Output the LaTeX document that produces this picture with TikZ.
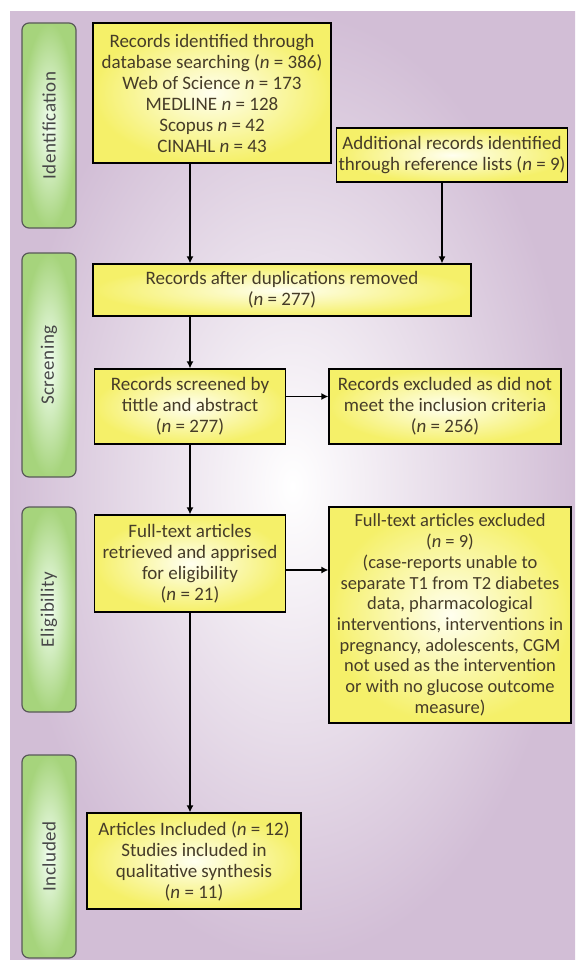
\documentclass[tikz,border=0pt]{standalone}
\usepackage{fontspec}
\setmainfont{Carlito}
\usetikzlibrary{arrows.meta}

\definecolor{bgpurple}{RGB}{210,190,214}
\definecolor{boxyellow}{RGB}{245,240,105}
\definecolor{stagegreen}{RGB}{166,212,124}
\definecolor{textdark}{RGB}{70,60,40}

\begin{document}
\begin{tikzpicture}[x=1pt,y=-1pt,
  box/.style={draw=black,line width=1.3pt,inner color=yellow!6!white,outer color=boxyellow,
    align=center,text=textdark,font=\fontsize{19}{21}\selectfont,inner sep=2pt},
  stage/.style={draw=black!65,line width=1.2pt,rounded corners=7pt,inner color=green!5!white,
    outer color=stagegreen,text=black!72,font=\fontsize{19}{20}\selectfont\addfontfeatures{LetterSpace=3},
    rotate=90,minimum height=54pt},
  arr/.style={-{Latex[length=7pt,width=7pt]},line width=1.3pt}]

% Frame
\useasboundingbox (0,0) rectangle (575,960);
\fill[white] (0,0) rectangle (575,960);
\fill[inner color=white,outer color=bgpurple] (10,12) rectangle (575,960);

% Stages
\node[stage,minimum width=205pt] (ident) at (49,125.5) {Identification};
\node[stage,minimum width=224pt] (screen) at (49,365) {Screening};
\node[stage,minimum width=205pt] (elig) at (49,609.5) {Eligibility};
\node[stage,minimum width=203pt] (incl) at (49,856.5) {Included};

% Boxes
\node[box,minimum width=238pt,minimum height=140pt] (search) at (212,93)
  {Records identified through\\database searching (\textit{n} = 386)\\Web of Science \textit{n} = 173\\MEDLINE \textit{n} = 128\\Scopus \textit{n} = 42\\CINAHL \textit{n} = 43};
\node[box,minimum width=230pt,minimum height=54pt] (extra) at (452,155)
  {Additional records identified\\through reference lists (\textit{n} = 9)};
\node[box,minimum width=378pt,minimum height=52pt] (dedup) at (282,290)
  {Records after duplications removed\\(\textit{n} = 277)};
\node[box,minimum width=191pt,minimum height=75pt] (screened) at (190,406.5)
  {Records screened by\\tittle and abstract\\(\textit{n} = 277)};
\node[box,minimum width=232pt,minimum height=75pt] (excluded) at (445,406.5)
  {Records excluded as did not\\meet the inclusion criteria\\(\textit{n} = 256)};
\node[box,minimum width=191pt,minimum height=97pt] (fulltext) at (190,563.5)
  {Full-text articles\\retrieved and apprised\\for eligibility\\(\textit{n} = 21)};
\node[box,minimum width=242pt,minimum height=216pt,font=\fontsize{18.5}{20.7}\selectfont] (fullexcl) at (450,615)
  {Full-text articles excluded\\(\textit{n} = 9)\\(case-reports unable to\\separate T1 from T2 diabetes\\data, pharmacological\\interventions, interventions in\\pregnancy, adolescents, CGM\\not used as the intervention\\or with no glucose outcome\\measure)};
\node[box,minimum width=214pt,minimum height=96pt] (included) at (194,861)
  {Articles Included (\textit{n} = 12)\\Studies included in\\qualitative synthesis\\(\textit{n} = 11)};

% Arrows
\draw[arr] (search.south -| screened) -- (dedup.north -| screened);
\draw[arr] ([xshift=-10pt]extra.south) -- ([xshift=-10pt]extra.south |- dedup.north);
\draw[arr] (dedup.south -| screened) -- (screened);
\draw[arr] ([yshift=10pt]screened.east) -- ([yshift=10pt]screened.east -| excluded.west);
\draw[arr] ([yshift=-6.5pt]fulltext.east) -- ([yshift=-6.5pt]fulltext.east -| fullexcl.west);
\draw[arr] (screened) -- (fulltext);
\draw[arr] (fulltext) -- (fulltext |- included.north);

\end{tikzpicture}
\end{document}
